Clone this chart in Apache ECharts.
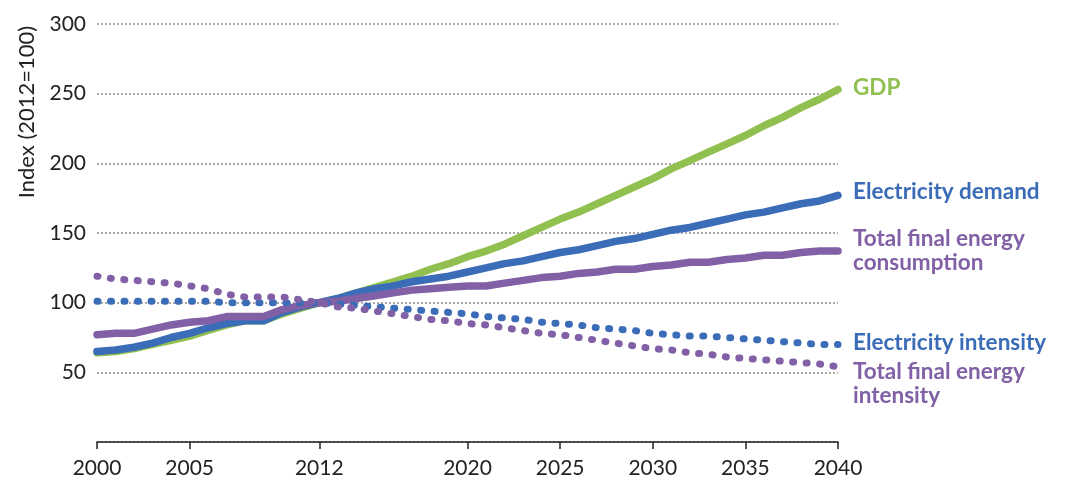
<!DOCTYPE html>
<html>
<head>
<meta charset="utf-8">
<script src="https://cdn.jsdelivr.net/npm/echarts@6/dist/echarts.min.js"></script>
<style>
  html, body { margin: 0; padding: 0; background: #fff; }
  #chart { width: 1068px; height: 494px; }
</style>
</head>
<body>
<div id="chart"></div>
<script>
const years = [];
for (let y = 2000; y <= 2040; y++) years.push(String(y));
const tickYears = ["2000", "2005", "2012", "2020", "2025", "2030", "2035", "2040"];

const gdp = [64, 65, 67, 70, 73, 76, 80, 84, 87, 87, 92, 96, 100, 103, 107, 111, 115, 119, 124, 128,
  133, 137, 142, 148, 154, 160, 165, 171, 177, 183, 189, 196, 202, 208, 214, 220, 227, 233, 240, 246, 253];
const elecDemand = [65, 66, 68, 71, 75, 78, 82, 85, 87, 87, 93, 97, 100, 103, 107, 110, 112, 115, 117, 119,
  122, 125, 128, 130, 133, 136, 138, 141, 144, 146, 149, 152, 154, 157, 160, 163, 165, 168, 171, 173, 177];
const tfc = [77, 78, 78, 81, 84, 86, 87, 90, 90, 90, 95, 98, 100, 101, 103, 105, 107, 109, 110, 111,
  112, 112, 114, 116, 118, 119, 121, 122, 124, 124, 126, 127, 129, 129, 131, 132, 134, 134, 136, 137, 137];
const elecIntensity = [101, 101, 101, 101, 101, 101, 101, 100, 100, 100, 100, 100, 100, 99, 98, 97, 96, 95, 94, 93,
  92, 90, 89, 88, 86, 85, 84, 82, 81, 80, 78, 77, 76, 76, 75, 74, 73, 72, 71, 70, 70];
const tfcIntensity = [119, 117, 116, 115, 114, 112, 110, 106, 104, 104, 104, 102, 100, 97, 96, 94, 92, 90, 88, 87,
  85, 84, 82, 80, 78, 77, 75, 73, 71, 69, 67, 66, 64, 63, 61, 60, 59, 58, 57, 56, 54];

const GREEN = "#92c050";
const BLUE = "#3b6cb7";
const PURPLE = "#8160a5";
const FONT = "Lato, 'Open Sans', sans-serif";

const isTick = (i) => tickYears.includes(years[i]);

function label(text, color, offset) {
  return {
    show: true, formatter: text, color, fontFamily: FONT,
    fontSize: 22.5, fontWeight: "bold", lineHeight: 24, offset, align: "left"
  };
}

function solid(name, data, color, labelText, offset) {
  return {
    name, type: "line", data, symbol: "none",
    lineStyle: { color, width: 7.5, cap: "round", join: "round" },
    endLabel: label(labelText, color, offset),
    z: 3
  };
}

function dotted(name, data, color, labelText, offset) {
  return {
    name, type: "line", data, symbol: "none",
    lineStyle: { color, width: 7, type: [1, 12.5], cap: "round" },
    endLabel: label(labelText, color, offset),
    z: 4
  };
}

const chart = echarts.init(document.getElementById("chart"));
chart.setOption({
  animation: false,
  grid: { left: 97, right: 230, top: 24, bottom: 52 },
  xAxis: {
    type: "category",
    data: years,
    boundaryGap: false,
    axisLine: { lineStyle: { color: "#222", width: 1.5 } },
    axisTick: { show: true, interval: isTick, length: 7, inside: false, lineStyle: { color: "#222", width: 1.5 } },
    axisLabel: { interval: isTick, color: "#222", fontFamily: FONT, fontSize: 21, margin: 16 },
    splitLine: { show: false }
  },
  yAxis: {
    type: "value",
    min: 0, max: 300, interval: 50,
    name: "Index (2012=100)",
    nameLocation: "middle",
    nameGap: 59,
    nameRotate: 90,
    nameTextStyle: { color: "#222", fontFamily: FONT, fontSize: 22, padding: [0, 0, 0, 242] },
    axisLine: { show: false },
    axisTick: { show: false },
    axisLabel: {
      color: "#222", fontFamily: FONT, fontSize: 21, margin: 11,
      formatter: (v) => (v === 0 ? "" : String(v))
    },
    splitLine: { lineStyle: { color: "#aaaaaa", width: 2, type: [2, 2] } }
  },
  series: [
    solid("GDP", gdp, GREEN, "GDP", [7, -2]),
    solid("Electricity demand", elecDemand, BLUE, "Electricity demand", [7, -4]),
    solid("Total final energy consumption", tfc, PURPLE, "Total final energy\nconsumption", [7, 0]),
    dotted("Electricity intensity", elecIntensity, BLUE, "Electricity intensity", [7, -2]),
    dotted("Total final energy intensity", tfcIntensity, PURPLE, "Total final energy\nintensity", [7, 17])
  ]
});
</script>
</body>
</html>
